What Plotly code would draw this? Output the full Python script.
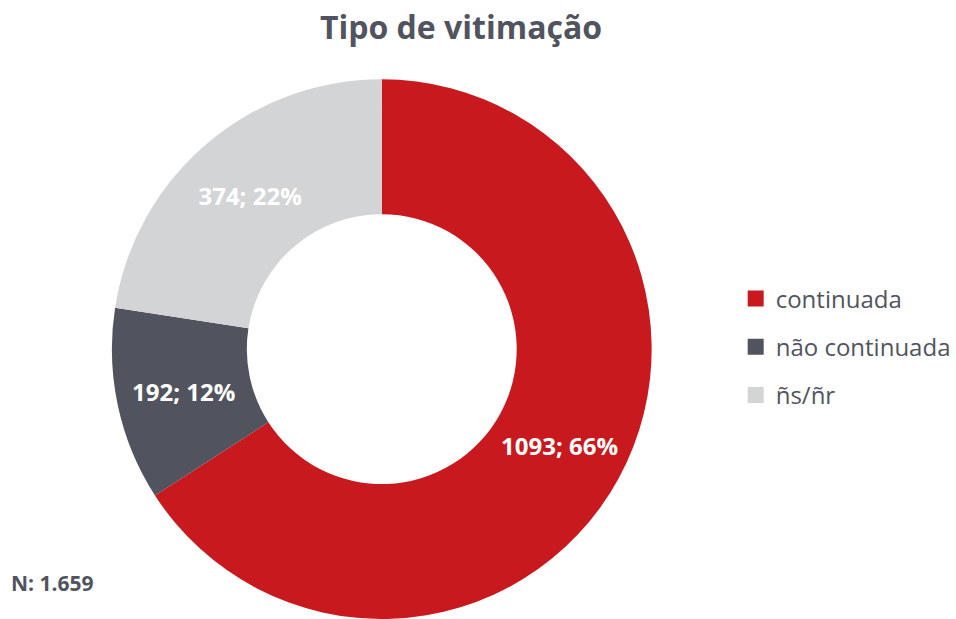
import plotly.graph_objects as go

categories = ["continuada", "não continuada", "ñs/ñr"]
values = [1093, 192, 374]
pct_labels = ["66%", "12%", "22%"]
colors = ["#c8191e", "#51545e", "#d3d4d6"]

FONT = "Open Sans"
TXT = "#51545e"
W, H = 956, 619

fig = go.Figure()
fig.add_trace(go.Pie(
    labels=categories, values=values, text=pct_labels,
    texttemplate="<b>%{value}; %{text}</b>", textinfo="text",
    hoverinfo="label+value",
    sort=False, direction="clockwise", rotation=0, hole=0.5,
    marker=dict(colors=colors, line=dict(width=0)),
    textposition="inside", insidetextorientation="horizontal",
    textfont=dict(family=FONT, size=24, color="white"),
    domain=dict(x=[0.1171, 0.6841], y=[0.0, 0.872]),
    showlegend=False,
))

for i, (c, col) in enumerate(zip(categories, colors)):
    fig.add_trace(go.Scatter(
        x=[None], y=[None], mode="markers", name=c,
        marker=dict(symbol="square", size=16, color=col),
        legendgroup=f"g{i}", showlegend=True,
    ))

fig.update_layout(
    width=W, height=H,
    margin=dict(l=0, r=0, t=0, b=0),
    paper_bgcolor="white", plot_bgcolor="white",
    title=dict(text="<b>Tipo de vitimação</b>", x=461 / W, xanchor="center",
               y=1 - 28 / H, yanchor="middle",
               font=dict(family=FONT, size=32, color=TXT)),
    xaxis=dict(visible=False), yaxis=dict(visible=False),
    legend=dict(x=738 / W, y=1 - 347 / H, xanchor="left", yanchor="middle",
                font=dict(family=FONT, size=24, color=TXT),
                tracegroupgap=14, itemwidth=30,
                bgcolor="rgba(0,0,0,0)"),
    annotations=[dict(text="<b>N: 1.659</b>", x=9 / W, y=1 - 583 / H,
                      xref="paper", yref="paper", xanchor="left", yanchor="middle",
                      showarrow=False, font=dict(family=FONT, size=21, color=TXT))],
)

fig.write_html("out.html", config={"displayModeBar": False},
               post_script="document.body.style.margin='0';document.body.style.overflow='hidden';")
